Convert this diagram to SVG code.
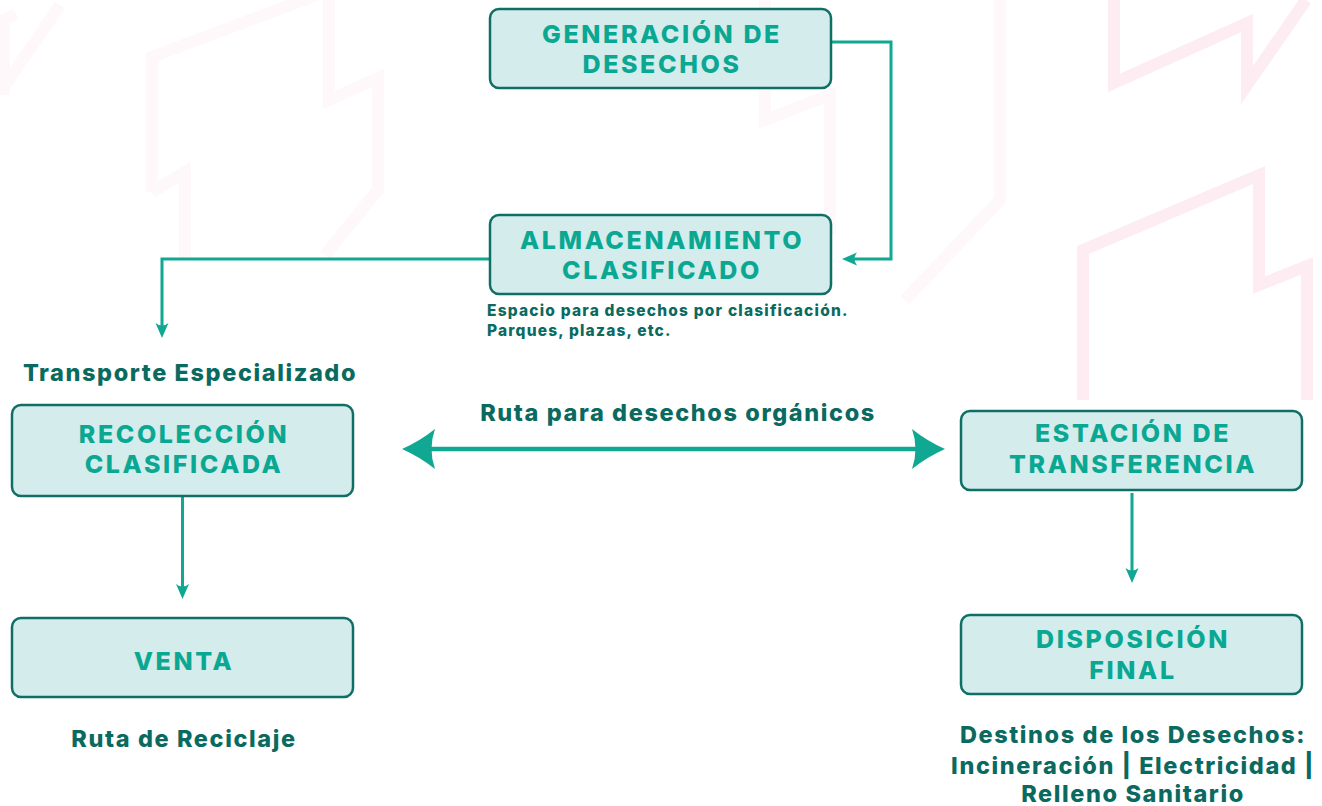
<svg xmlns="http://www.w3.org/2000/svg" width="1322" height="806" viewBox="0 0 1322 806">
<defs>
<style>
.bg{fill:none;stroke:#fdedf3;stroke-width:12;stroke-linejoin:miter}
.bgf{fill:none;stroke:#fef8fa;stroke-width:12;stroke-linejoin:miter}
.box{fill:#d4ecec;stroke:#0f6f65;stroke-width:2.5}
.ttl{font-family:Inter,"DejaVu Sans",sans-serif;font-weight:800;font-size:25px;fill:#0aa892;text-anchor:middle;letter-spacing:2.6px}
.lbl{font-family:Inter,"DejaVu Sans",sans-serif;font-weight:800;font-size:23.5px;fill:#0b6a5f;letter-spacing:1.6px}
.sub{font-family:Inter,"DejaVu Sans",sans-serif;font-weight:800;font-size:15.5px;fill:#0b6a5f;letter-spacing:1.2px}
.con{fill:none;stroke:#10a893;stroke-width:3}
.big{fill:none;stroke:#10a893;stroke-width:4.5}
</style>
<marker id="ah" markerUnits="userSpaceOnUse" markerWidth="30" markerHeight="30" viewBox="-15 -15 30 30" refX="0" refY="0" orient="auto" overflow="visible">
<path d="M6,0 L-9,-6.5 Q-4,0 -9,6.5 Z" fill="#10a893"/>
</marker>
<marker id="bh" markerUnits="userSpaceOnUse" markerWidth="60" markerHeight="60" viewBox="-30 -30 60 60" refX="0" refY="0" orient="auto-start-reverse" overflow="visible">
<path d="M10,0 Q-8,-8 -23,-20 Q-16,0 -23,20 Q-8,8 10,0 Z" fill="#10a893"/>
</marker>
</defs>
<rect width="1322" height="806" fill="#ffffff"/>
<g id="background">
<polyline class="bg" points="1114,0 1114,83 1247,23 1247,85 1306,0"/>
<polyline class="bg" points="1083,400 1083,250 1259,175 1259,285 1307,266 1307,400"/>
<polyline class="bgf" points="152,192 152,57 325,-8"/>
<polyline class="bgf" points="329,0 329,100 378,78 378,190 325,255"/>
<polyline class="bgf" points="152,192 185,172 185,260"/>
<polyline class="bgf" points="4,95 4,20 16,14"/>
<polyline class="bgf" points="0,93 60,5"/>
<polyline class="bgf" points="765,0 765,120 830,95 830,235"/>
<polyline class="bgf" points="1000,0 1000,200 905,300"/>
</g>
<g id="connectors">
<path class="con" d="M831,42 H891 V259 H848" marker-end="url(#ah)"/>
<path class="con" d="M490,259 H162 V332" marker-end="url(#ah)"/>
<path class="con" d="M182.5,497 V593" marker-end="url(#ah)"/>
<path class="con" d="M1132,493 V577" marker-end="url(#ah)"/>
<path class="big" d="M412,449 H935" marker-start="url(#bh)" marker-end="url(#bh)"/>
</g>
<g id="node-generacion">
<rect class="box" x="490" y="9" width="341" height="79" rx="9"/>
<text class="ttl" x="662" y="43">GENERACIÓN DE</text>
<text class="ttl" x="662" y="73">DESECHOS</text>
</g>
<g id="node-almacenamiento">
<rect class="box" x="490" y="215" width="341" height="79" rx="9"/>
<text class="ttl" x="662" y="249">ALMACENAMIENTO</text>
<text class="ttl" x="662" y="279">CLASIFICADO</text>
<text class="sub" x="487" y="316">Espacio para desechos por clasificación.</text>
<text class="sub" x="487" y="336">Parques, plazas, etc.</text>
</g>
<g id="label-transporte">
<text class="lbl" x="190" y="381" text-anchor="middle">Transporte Especializado</text>
</g>
<g id="node-recoleccion">
<rect class="box" x="12" y="405" width="341" height="91" rx="9"/>
<text class="ttl" x="184" y="443">RECOLECCIÓN</text>
<text class="ttl" x="184" y="473">CLASIFICADA</text>
</g>
<g id="label-ruta-organicos">
<text class="lbl" x="678" y="421" text-anchor="middle">Ruta para desechos orgánicos</text>
</g>
<g id="node-venta">
<rect class="box" x="12" y="618" width="341" height="79" rx="9"/>
<text class="ttl" x="184" y="670">VENTA</text>
<text class="lbl" x="184" y="747" text-anchor="middle">Ruta de Reciclaje</text>
</g>
<g id="node-estacion">
<rect class="box" x="961" y="411" width="341" height="79" rx="9"/>
<text class="ttl" x="1133" y="442">ESTACIÓN DE</text>
<text class="ttl" x="1133" y="473">TRANSFERENCIA</text>
</g>
<g id="node-disposicion">
<rect class="box" x="961" y="615" width="341" height="79" rx="9"/>
<text class="ttl" x="1133" y="648">DISPOSICIÓN</text>
<text class="ttl" x="1133" y="679">FINAL</text>
<text class="lbl" x="1133" y="743" text-anchor="middle">Destinos de los Desechos:</text>
<text class="lbl" x="1133" y="774" text-anchor="middle">Incineración | Electricidad |</text>
<text class="lbl" x="1133" y="802" text-anchor="middle">Relleno Sanitario</text>
</g>
</svg>
